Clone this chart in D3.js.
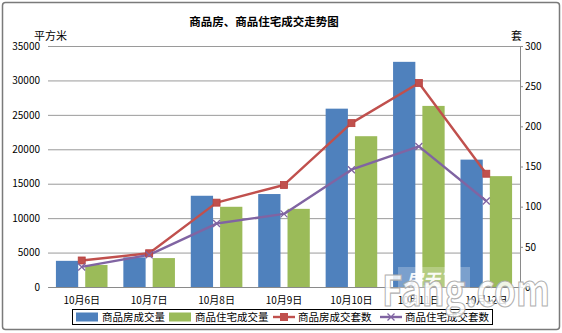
<!DOCTYPE html>
<html>
<head>
<meta charset="utf-8">
<script src="https://cdn.jsdelivr.net/npm/d3@7"></script>
<style>
  html, body { margin: 0; padding: 0; background: #fff; }
  svg { display: block; }
  text { font-family: "Noto Sans CJK SC", "Liberation Sans", sans-serif; }
</style>
</head>
<body>
<svg id="chart" width="562" height="333"></svg>
<script>
// Daily transactions, 6–12 October
const categories = ["10月6日", "10月7日", "10月8日", "10月9日", "10月10日", "10月11日", "10月12日"];
const areaAll = [3800, 4300, 13250, 13500, 25900, 32700, 18500];      // 商品房成交量 (平方米)
const areaResidential = [3200, 4200, 11650, 11350, 21900, 26300, 16100]; // 商品住宅成交量 (平方米)
const unitsAll = [33, 42, 105, 127, 204, 254, 141];                   // 商品房成交套数 (套)
const unitsResidential = [25, 40, 79, 91, 146, 175, 107];             // 商品住宅成交套数 (套)
const leftTicks = [0, 5000, 10000, 15000, 20000, 25000, 30000, 35000];
const rightTicks = [0, 50, 100, 150, 200, 250, 300];
const seriesNames = ["商品房成交量", "商品住宅成交量", "商品房成交套数", "商品住宅成交套数"];
const colors = ["#4F81BD", "#9BBB59", "#C0504D", "#8064A2"];

const svg = d3.select("#chart");
const W = 562, H = 333;
const plot = { left: 48, right: 520, top: 46, bottom: 287 };

// outer frame
svg.append("rect").attr("x", 0).attr("y", 0).attr("width", W).attr("height", H).attr("fill", "#fff");
svg.append("rect")
  .attr("x", 2.5).attr("y", 2.5).attr("width", W - 5).attr("height", H - 6)
  .attr("rx", 3).attr("fill", "#fff").attr("stroke", "#7a7a7a").attr("stroke-width", 1.5);

// scales
const x0 = d3.scaleBand().domain(categories).range([plot.left, plot.right]).paddingInner(0).paddingOuter(0);
const groupW = x0.bandwidth() * 0.765;
const x1 = d3.scaleBand().domain([0, 1]).range([0, groupW]).paddingInner(0.24);
const yL = d3.scaleLinear().domain([0, 35000]).range([plot.bottom, plot.top]);
const yR = d3.scaleLinear().domain([0, 300]).range([plot.bottom, plot.top]);

// gridlines (left axis)
svg.append("g")
  .attr("transform", `translate(${plot.left},0)`)
  .call(d3.axisLeft(yL).tickValues(leftTicks).tickSize(-(plot.right - plot.left)).tickFormat(d => d).tickPadding(8))
  .call(g => g.select(".domain").remove())
  .call(g => g.selectAll(".tick line").attr("stroke", "#9a9a9a").attr("stroke-width", 1))
  .call(g => g.selectAll(".tick text").attr("font-family", "Liberation Sans, Arial, sans-serif").attr("font-size", 10).attr("fill", "#000"));

// right axis
svg.append("g")
  .attr("transform", `translate(${plot.right},0)`)
  .call(d3.axisRight(yR).tickValues(rightTicks).tickSize(3).tickPadding(2))
  .call(g => g.select(".domain").attr("stroke", "#8a8a8a"))
  .call(g => g.selectAll(".tick line").attr("stroke", "#8a8a8a"))
  .call(g => g.selectAll(".tick text").attr("font-family", "Liberation Sans, Arial, sans-serif").attr("font-size", 10).attr("fill", "#000"));

// bars
const barGroups = svg.append("g").selectAll("g")
  .data(categories)
  .join("g")
  .attr("transform", d => `translate(${x0(d) + (x0.bandwidth() - groupW) / 2},0)`);

barGroups.selectAll("rect")
  .data((d, i) => [areaAll[i], areaResidential[i]])
  .join("rect")
  .attr("x", (d, j) => x1(j))
  .attr("width", x1.bandwidth())
  .attr("y", d => yL(d))
  .attr("height", d => yL(0) - yL(d))
  .attr("fill", (d, j) => colors[j]);

// category axis
svg.append("g")
  .attr("transform", `translate(0,${plot.bottom})`)
  .call(d3.axisBottom(x0).tickSize(0).tickPadding(10))
  .call(g => g.select(".domain").attr("stroke", "#8a8a8a"))
  .call(g => g.selectAll(".tick text").attr("font-size", 10).attr("fill", "#000"));

// lines
const cx = d => x0(d) + x0.bandwidth() / 2;
const lineGen = vals => d3.line().x((d, i) => cx(categories[i])).y(d => yR(d))(vals);

svg.append("path").attr("d", lineGen(unitsAll))
  .attr("fill", "none").attr("stroke", colors[2]).attr("stroke-width", 2.4).attr("stroke-linejoin", "round");
svg.append("path").attr("d", lineGen(unitsResidential))
  .attr("fill", "none").attr("stroke", colors[3]).attr("stroke-width", 2.4).attr("stroke-linejoin", "round");

// square markers
svg.append("g").selectAll("rect")
  .data(unitsAll)
  .join("rect")
  .attr("x", (d, i) => cx(categories[i]) - 3.5)
  .attr("y", d => yR(d) - 3.5)
  .attr("width", 7).attr("height", 7)
  .attr("fill", colors[2]).attr("stroke", "#b8403d").attr("stroke-width", 0.8);

// cross markers
const xMark = (x, y, s) => `M${x - s},${y - s}L${x + s},${y + s}M${x - s},${y + s}L${x + s},${y - s}`;
svg.append("g").selectAll("path")
  .data(unitsResidential)
  .join("path")
  .attr("d", (d, i) => xMark(cx(categories[i]), yR(d), 3.5))
  .attr("stroke", colors[3]).attr("stroke-width", 1.3).attr("fill", "none");

// titles
svg.append("text").attr("x", 264).attr("y", 26).attr("text-anchor", "middle")
  .attr("font-size", 11.5).attr("font-weight", "bold").text("商品房、商品住宅成交走势图");
svg.append("text").attr("x", 34).attr("y", 40).attr("font-size", 11).text("平方米");
svg.append("text").attr("x", 511).attr("y", 40).attr("font-size", 11).text("套");

// legend
const legend = svg.append("g");
legend.append("rect").attr("x", 72.5).attr("y", 309.5).attr("width", 420).attr("height", 15)
  .attr("fill", "#fff").attr("stroke", "#000").attr("stroke-width", 1);
const legendItems = [
  { x: 76, type: "bar" }, { x: 169, type: "bar" },
  { x: 273, type: "square" }, { x: 380, type: "cross" }
];
legendItems.forEach((it, i) => {
  const cy = 317;
  if (it.type === "bar") {
    legend.append("rect").attr("x", it.x).attr("y", cy - 4.5).attr("width", 22).attr("height", 9).attr("fill", colors[i]);
    legend.append("text").attr("x", it.x + 26).attr("y", cy + 4).attr("font-size", 10.5).text(seriesNames[i]);
  } else {
    legend.append("line").attr("x1", it.x).attr("x2", it.x + 22).attr("y1", cy).attr("y2", cy)
      .attr("stroke", colors[i]).attr("stroke-width", 2.4);
    if (it.type === "square") {
      legend.append("rect").attr("x", it.x + 7).attr("y", cy - 4).attr("width", 8).attr("height", 8).attr("fill", colors[i]);
    } else {
      legend.append("path").attr("d", xMark(it.x + 11, cy, 3.5)).attr("stroke", colors[i]).attr("stroke-width", 1.3);
    }
    legend.append("text").attr("x", it.x + 25).attr("y", cy + 4).attr("font-size", 10.5).text(seriesNames[i]);
  }
});

// watermark
const wm = svg.append("g").attr("pointer-events", "none");
wm.append("rect").attr("x", 398).attr("y", 267).attr("width", 72).attr("height", 24)
  .attr("fill", "#fff").attr("opacity", 0.25);
wm.append("text").attr("x", 406).attr("y", 286).attr("font-size", 17).attr("font-weight", "bold")
  .attr("font-style", "italic").attr("fill", "#fff").attr("opacity", 0.92).text("房天下");
wm.append("text").attr("x", 382).attr("y", 306).attr("font-size", 42).attr("font-weight", "bold")
  .attr("font-family", "Liberation Sans, Arial, sans-serif")
  .attr("textLength", 168).attr("lengthAdjust", "spacingAndGlyphs")
  .attr("fill", "#fff").attr("fill-opacity", 0.85).attr("stroke", "#a8a8a8").attr("stroke-width", 1.2)
  .attr("stroke-opacity", 0.9)
  .text("Fang.com");
</script>
</body>
</html>
